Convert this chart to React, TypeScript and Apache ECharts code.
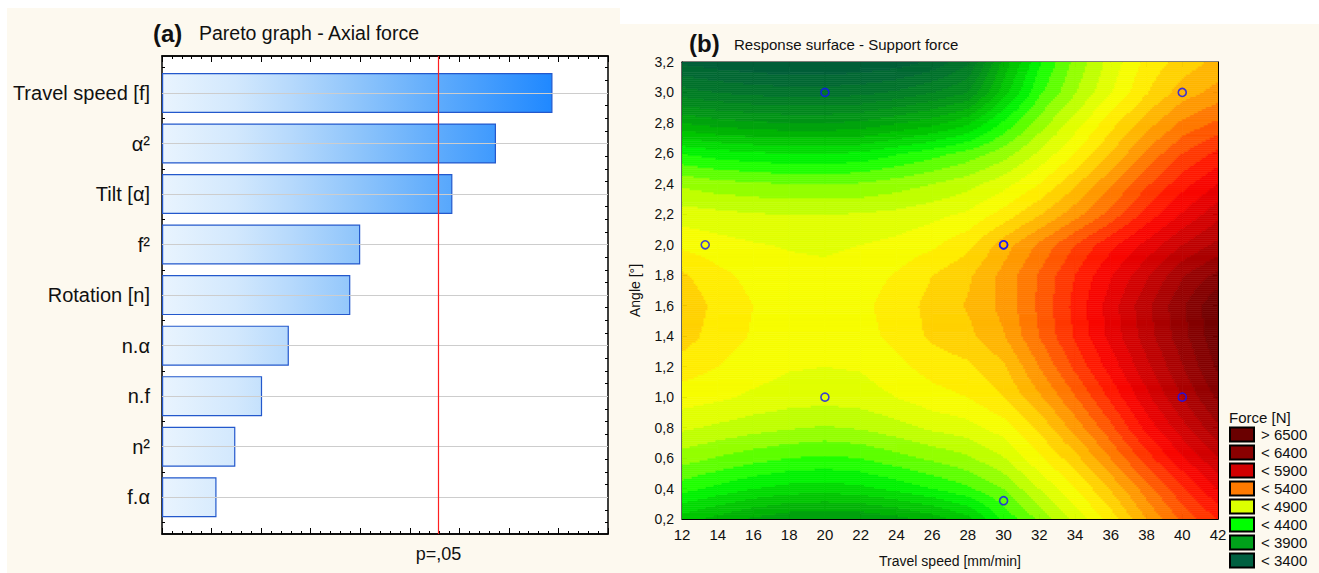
import React, { useEffect, useRef } from "react";
import * as echarts from "echarts";

// ---------- Panel (a): Pareto chart ----------
const effectLabels = ["Travel speed [f]", "α²", "Tilt [α]", "f²", "Rotation [n]", "n.α", "n.f", "n²", "f.α"];
const effectValues = [3.94, 3.37, 2.93, 2.0, 1.9, 1.28, 1.01, 0.74, 0.55];
const pCritical = 2.79;
const pLabel = "p=,05";
const paretoMax = 4.5;

// ---------- Panel (b): response surface ----------
const speedNodes = [12, 14, 16, 18, 20, 22, 24, 26, 28, 30, 32, 34, 36, 38, 40, 42];
const angleNodes = [0.2, 0.4, 0.6, 0.8, 1.0, 1.2, 1.4, 1.6, 1.8, 2.0, 2.2, 2.4, 2.6, 2.8, 3.0, 3.2];
// force [N], one row per angle (0.2 .. 3.2), columns = speedNodes
const force02 = [4150, 4060, 3980, 3920, 3900, 3910, 3960, 4040, 4160, 4420, 4620, 4830, 5040, 5300, 5520, 5700];
const force04 = [4440, 4370, 4300, 4260, 4250, 4270, 4330, 4400, 4480, 4600, 4800, 4990, 5210, 5450, 5680, 5900];
const force06 = [4650, 4590, 4540, 4500, 4480, 4500, 4560, 4620, 4680, 4790, 4980, 5160, 5400, 5650, 5880, 6100];
const force08 = [4820, 4780, 4740, 4710, 4690, 4710, 4760, 4820, 4860, 4950, 5120, 5340, 5570, 5830, 6060, 6280];
const force10 = [4950, 4920, 4880, 4850, 4840, 4850, 4900, 4960, 5000, 5100, 5280, 5490, 5720, 5970, 6200, 6420];
const force12 = [5050, 5000, 4950, 4910, 4900, 4910, 4970, 5040, 5080, 5180, 5400, 5620, 5840, 6070, 6290, 6520];
const force14 = [5150, 5050, 4990, 4950, 4940, 4960, 5030, 5120, 5170, 5290, 5500, 5710, 5930, 6150, 6360, 6580];
const force16 = [5180, 5070, 5000, 4960, 4950, 4970, 5050, 5130, 5210, 5330, 5520, 5730, 5950, 6170, 6380, 6600];
const force18 = [5120, 5030, 4970, 4940, 4930, 4950, 5010, 5100, 5180, 5330, 5510, 5700, 5890, 6080, 6290, 6430];
const force20 = [4980, 4940, 4910, 4890, 4880, 4900, 4930, 4980, 5070, 5250, 5420, 5600, 5770, 5930, 6100, 6230];
const force22 = [4850, 4830, 4810, 4800, 4800, 4810, 4830, 4870, 4920, 5040, 5190, 5360, 5540, 5740, 5910, 6070];
const force24 = [4680, 4640, 4620, 4600, 4600, 4610, 4650, 4700, 4760, 4860, 5000, 5180, 5380, 5580, 5760, 5900];
const force26 = [4400, 4350, 4320, 4300, 4300, 4320, 4390, 4460, 4540, 4650, 4820, 5000, 5200, 5420, 5600, 5730];
const force28 = [4000, 3950, 3920, 3900, 3900, 3920, 3990, 4060, 4180, 4420, 4640, 4850, 5060, 5250, 5420, 5520];
const force30 = [3650, 3600, 3570, 3550, 3550, 3570, 3620, 3700, 3800, 4150, 4480, 4690, 4890, 5090, 5250, 5340];
const force32 = [3380, 3340, 3310, 3300, 3300, 3310, 3340, 3420, 3580, 4030, 4380, 4630, 4840, 5030, 5140, 5230];
const forceGrid = [force02, force04, force06, force08, force10, force12, force14, force16, force18, force20, force22, force24, force26, force28, force30, force32];

const designSpeed = [20, 40, 13.3, 30, 30, 20, 40, 30];
const designAngle = [3.0, 3.0, 2.0, 2.0, 2.0, 1.0, 1.0, 0.32];

const legendTitle = "Force [N]";
const legendLabels = ["> 6500", "< 6400", "< 5900", "< 5400", "< 4900", "< 4400", "< 3900", "< 3400"];
const legendColors = ["#6a0000", "#8a0000", "#d20000", "#ff7a00", "#dcff00", "#00ff00", "#00a01a", "#006040"];

// colour ramp for the surface (value -> colour)
const rampValues = [3300, 3500, 3700, 3900, 4100, 4300, 4400, 4500, 4600, 4700, 4800, 4900, 5000, 5100, 5200, 5300, 5400, 5500, 5600, 5700, 5800, 5900, 6000, 6100, 6200, 6300, 6400, 6500, 6600];
const rampColors = ["#005a3c", "#006c2e", "#008220", "#009a12", "#00bc00", "#00e400", "#00ff00", "#40ff00", "#7cff00", "#acff00", "#d4ff00", "#eeff00", "#fffa00", "#ffe000", "#ffc400", "#ffa800", "#ff8a00", "#ff6800", "#ff4800", "#ff2800", "#ff0c00", "#f00000", "#dc0000", "#c80000", "#b40000", "#a00000", "#8c0000", "#7c0000", "#6c0000"];

const FONT = "'Liberation Sans', Arial, Helvetica, sans-serif";

function hexRgb(h: string) {
  const n = parseInt(h.slice(1), 16);
  return [(n >> 16) & 255, (n >> 8) & 255, n & 255];
}
const rampRgb = rampColors.map(hexRgb);

function forceColor(v: number) {
  const q = Math.floor(v / 100) * 100 + 50;
  if (q <= rampValues[0]) return rampColors[0];
  const last = rampValues.length - 1;
  if (q >= rampValues[last]) return rampColors[last];
  let k = 0;
  while (k < last && rampValues[k + 1] < q) k++;
  const t = (q - rampValues[k]) / (rampValues[k + 1] - rampValues[k]);
  const a = rampRgb[k];
  const b = rampRgb[k + 1];
  const c = a.map((av, idx) => Math.round(av + (b[idx] - av) * t));
  return `rgb(${c[0]},${c[1]},${c[2]})`;
}

const fmtComma = (v: number) => v.toFixed(1).replace(".", ",");

export default function App() {
  const ref = useRef<HTMLDivElement>(null);

  useEffect(() => {
    document.body.style.margin = "0";
    if (!ref.current) return;
    const chart = echarts.init(ref.current, undefined, { renderer: "svg" });

    // layout
    const g0 = { left: 162, top: 56, width: 446, height: 478 };
    const g1 = { left: 162, top: 67.7, width: 446, height: 454.8 };
    const g2 = { left: 682, top: 62, width: 536, height: 457.5 };

    const gradEnd = g0.left + (Math.max(...effectValues) / paretoMax) * g0.width;
    const barGradient = new echarts.graphic.LinearGradient(
      g0.left, 0, gradEnd, 0,
      [
        { offset: 0, color: "#e9f4fe" },
        { offset: 0.19, color: "#d2e8fd" },
        { offset: 0.33, color: "#b6d9fc" },
        { offset: 0.5, color: "#8fc5fb" },
        { offset: 0.71, color: "#5eabfc" },
        { offset: 1, color: "#1f88ff" },
      ],
      true
    );

    const cells: number[][] = [];
    for (let j = 0; j < angleNodes.length - 1; j++) {
      for (let i = 0; i < speedNodes.length - 1; i++) {
        cells.push([(speedNodes[i] + speedNodes[i + 1]) / 2, (angleNodes[j] + angleNodes[j + 1]) / 2, i, j]);
      }
    }

    const renderCell = (params: any, api: any) => {
      const i = api.value(2);
      const j = api.value(3);
      const x0 = speedNodes[i], x1 = speedNodes[i + 1];
      const y0 = angleNodes[j], y1 = angleNodes[j + 1];
      const v00 = forceGrid[j][i], v10 = forceGrid[j][i + 1];
      const v01 = forceGrid[j + 1][i], v11 = forceGrid[j + 1][i + 1];
      const NX = 18, NY = 15;
      const children: any[] = [];
      for (let b = 0; b < NY; b++) {
        const wc = (b + 0.5) / NY;
        let runStart = 0;
        let runColor = "";
        for (let a = 0; a <= NX; a++) {
          let col = "";
          if (a < NX) {
            const uc = (a + 0.5) / NX;
            const v = v00 * (1 - uc) * (1 - wc) + v10 * uc * (1 - wc) + v01 * (1 - uc) * wc + v11 * uc * wc;
            col = forceColor(v);
          }
          if (a === 0) { runColor = col; runStart = 0; continue; }
          if (col !== runColor) {
            const pA = api.coord([x0 + (x1 - x0) * (runStart / NX), y0 + (y1 - y0) * ((b + 1) / NY)]);
            const pB = api.coord([x0 + (x1 - x0) * (a / NX), y0 + (y1 - y0) * (b / NY)]);
            children.push({
              type: "rect",
              shape: { x: pA[0], y: pA[1], width: pB[0] - pA[0], height: pB[1] - pA[1] },
              style: { fill: runColor, stroke: runColor, lineWidth: 0.6 },
            });
            runColor = col;
            runStart = a;
          }
        }
      }
      return { type: "group", children };
    };

    const frameTick = { show: true, inside: true, length: 6, lineStyle: { color: "#000", width: 1 } };
    const minorTick = { show: true, splitNumber: 5, length: 3, lineStyle: { color: "#000", width: 1 } };

    const graphics: any[] = [
      { type: "rect", z: -10, silent: true, shape: { x: 7, y: 8, width: 613, height: 565 }, style: { fill: "#fdf9ef" } },
      { type: "rect", z: -10, silent: true, shape: { x: 620, y: 24, width: 699, height: 549 }, style: { fill: "#fdf9ef" } },
      { type: "text", x: 153, y: 33, style: { text: "(a)", font: `bold 24px ${FONT}`, fill: "#111", verticalAlign: "middle" } },
      { type: "text", x: 199, y: 33, style: { text: "Pareto graph - Axial force", font: `19.5px ${FONT}`, fill: "#111", verticalAlign: "middle" } },
      { type: "text", x: 689, y: 43, style: { text: "(b)", font: `bold 24px ${FONT}`, fill: "#111", verticalAlign: "middle" } },
      { type: "text", x: 734, y: 44, style: { text: "Response surface - Support force", font: `15px ${FONT}`, fill: "#111", verticalAlign: "middle" } },
      { type: "text", x: 1229, y: 417, style: { text: legendTitle, font: `15px ${FONT}`, fill: "#111", verticalAlign: "middle" } },
    ];
    legendLabels.forEach((lab, k) => {
      const cy = 434.5 + 18 * k;
      graphics.push({ type: "rect", shape: { x: 1230, y: cy - 7, width: 24, height: 14 }, style: { fill: legendColors[k], stroke: "#000", lineWidth: 2 } });
      graphics.push({ type: "text", x: 1261, y: cy, style: { text: lab, font: `15px ${FONT}`, fill: "#111", verticalAlign: "middle" } });
    });

    const quarterTicks = (pos: string) => ({
      gridIndex: 1, type: "value", min: -0.5, max: 8.5, interval: 0.25, inverse: true, position: pos,
      axisLine: { show: false },
      axisTick: { show: true, inside: true, length: 3, lineStyle: { color: "#000" } },
      axisLabel: { show: false }, splitLine: { show: false },
    });

    const option: any = {
      animation: false,
      textStyle: { fontFamily: FONT },
      graphic: graphics,
      grid: [
        { ...g0, show: true, backgroundColor: "#fff", borderColor: "#000", borderWidth: 1.5 },
        { ...g1, show: false },
        { ...g2, show: true, backgroundColor: "#fff", borderColor: "#000", borderWidth: 1.2 },
      ],
      xAxis: [
        { gridIndex: 0, type: "value", min: 0, max: paretoMax, interval: 0.5, position: "bottom",
          axisLine: { show: true, lineStyle: { color: "#000", width: 1.5 } }, axisTick: frameTick, minorTick, axisLabel: { show: false }, splitLine: { show: false } },
        { gridIndex: 0, type: "value", min: 0, max: paretoMax, interval: 0.5, position: "top",
          axisLine: { show: true, lineStyle: { color: "#000", width: 1.5 } }, axisTick: frameTick, minorTick, axisLabel: { show: false }, splitLine: { show: false } },
        { gridIndex: 1, type: "value", min: 0, max: paretoMax, show: false },
        { gridIndex: 2, type: "value", min: 12, max: 42, interval: 2, position: "bottom",
          axisLine: { show: true, lineStyle: { color: "#000" } },
          axisTick: { show: true, inside: true, length: 5, lineStyle: { color: "#000" } },
          axisLabel: { show: true, color: "#111", fontSize: 15, margin: 8 },
          splitLine: { show: false },
          name: "Travel speed [mm/min]", nameLocation: "middle", nameGap: 35,
          nameTextStyle: { color: "#111", fontSize: 14 } },
        { gridIndex: 2, type: "value", min: 12, max: 42, interval: 2, position: "top",
          axisLine: { show: true, lineStyle: { color: "#000" } },
          axisTick: { show: true, inside: true, length: 5, lineStyle: { color: "#000" } },
          axisLabel: { show: false }, splitLine: { show: false } },
      ],
      yAxis: [
        { gridIndex: 0, type: "value", min: 0, max: 1, show: false },
        { gridIndex: 1, type: "category", data: effectLabels, inverse: true, position: "left",
          axisLine: { show: false },
          axisTick: { show: true, inside: true, alignWithLabel: true, length: 6, lineStyle: { color: "#000" } },
          axisLabel: { color: "#111", fontSize: 20, margin: 12 }, splitLine: { show: false } },
        { gridIndex: 1, type: "category", data: effectLabels, inverse: true, position: "right",
          axisLine: { show: false },
          axisTick: { show: true, inside: true, alignWithLabel: true, length: 6, lineStyle: { color: "#000" } },
          axisLabel: { show: false }, splitLine: { show: false } },
        { gridIndex: 2, type: "value", min: 0.2, max: 3.2, interval: 0.2, position: "left",
          axisLine: { show: true, lineStyle: { color: "#000" } },
          axisTick: { show: true, inside: true, length: 5, lineStyle: { color: "#000" } },
          axisLabel: { show: true, color: "#111", fontSize: 14, margin: 8, formatter: (v: number) => fmtComma(v) },
          splitLine: { show: false },
          name: "Angle [°]", nameLocation: "middle", nameGap: 40,
          nameTextStyle: { color: "#111", fontSize: 14 } },
        { gridIndex: 2, type: "value", min: 0.2, max: 3.2, interval: 0.2, position: "right",
          axisLine: { show: true, lineStyle: { color: "#000" } },
          axisTick: { show: true, inside: true, length: 5, lineStyle: { color: "#000" } },
          axisLabel: { show: false }, splitLine: { show: false } },
        quarterTicks("left"),
        quarterTicks("right"),
      ],
      series: [
        {
          type: "line", xAxisIndex: 2, yAxisIndex: 1, data: [], z: 1, silent: true,
          markLine: {
            silent: true, symbol: "none", label: { show: false }, animation: false,
            lineStyle: { color: "#cdcdcd", width: 1, type: "solid" },
            data: effectLabels.map((l) => ({ yAxis: l })),
          },
        },
        {
          type: "bar", xAxisIndex: 2, yAxisIndex: 1, data: effectValues, barWidth: 40, z: 3,
          itemStyle: { color: barGradient, borderColor: "#2358cc", borderWidth: 1.2 },
        },
        {
          type: "line", xAxisIndex: 0, yAxisIndex: 0, data: [], z: 5, silent: true,
          markLine: {
            silent: true, symbol: "none", animation: false,
            lineStyle: { color: "#ff2020", width: 1.2, type: "solid" },
            label: { show: true, position: "start", formatter: pLabel, color: "#111", fontSize: 18, distance: 11, fontFamily: FONT },
            data: [{ xAxis: pCritical }],
          },
        },
        {
          type: "custom", xAxisIndex: 3, yAxisIndex: 3, data: cells, renderItem: renderCell, clip: true, silent: true, z: 2,
        },
        {
          type: "scatter", xAxisIndex: 3, yAxisIndex: 3, z: 6, symbol: "circle", symbolSize: 8, silent: true,
          data: designSpeed.map((s, k) => [s, designAngle[k]]),
          itemStyle: { color: "rgba(0,0,0,0)", borderColor: "#1010ff", borderWidth: 1.6 },
        },
      ],
    };

    chart.setOption(option);
    return () => chart.dispose();
  }, []);

  return <div ref={ref} style={{ width: 1319, height: 573, background: "#fff" }} />;
}
